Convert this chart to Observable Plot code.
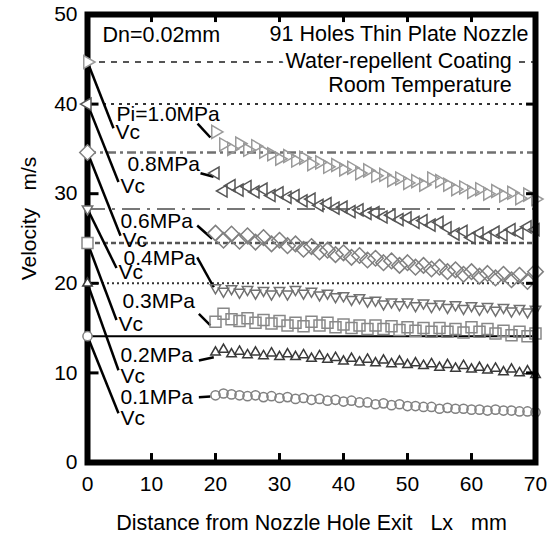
<!DOCTYPE html>
<html><head><meta charset="utf-8">
<script src="https://cdn.jsdelivr.net/npm/d3@7"></script>
<script src="https://cdn.jsdelivr.net/npm/@observablehq/plot@0.6"></script>
<style>body{margin:0;background:#fff} svg{display:block}</style>
</head><body><div id="chart"></div>
<script>
// ---- data ----
const distance = [20, 21.25, 22.5, 23.75, 25, 26.25, 27.5, 28.75, 30, 31.25, 32.5, 33.75, 35, 36.25, 37.5, 38.75, 40, 41.25, 42.5, 43.75, 45, 46.25, 47.5, 48.75, 50, 51.25, 52.5, 53.75, 55, 56.25, 57.5, 58.75, 60, 61.25, 62.5, 63.75, 65, 66.25, 67.5, 68.75, 70];
const pressureLabels = ["Pi=1.0MPa", "0.8MPa", "0.6MPa", "0.4MPa", "0.3MPa", "0.2MPa", "0.1MPa"];
const vcValues = [44.7, 40.0, 34.6, 28.3, 24.5, 20.0, 14.1];
const vel10 = [36.9, 35.5, 35.0, 35.6, 34.9, 35.3, 34.7, 34.4, 33.9, 34.2, 33.7, 34.0, 33.3, 33.5, 33.0, 33.2, 32.7, 32.9, 32.3, 32.6, 32.0, 32.1, 31.5, 31.7, 31.2, 31.4, 31.0, 31.7, 31.4, 31.0, 30.5, 30.7, 30.2, 30.5, 30.0, 30.3, 29.8, 30.1, 29.5, 29.9, 29.4];
const vel08 = [32.3, 30.3, 30.9, 30.4, 30.8, 30.2, 30.5, 29.8, 30.1, 29.6, 29.8, 29.2, 29.4, 28.7, 28.9, 28.4, 28.5, 28.0, 28.2, 27.8, 27.9, 27.4, 27.6, 27.1, 27.3, 26.8, 27.0, 26.5, 26.8, 26.2, 25.5, 25.8, 25.1, 25.6, 25.2, 25.7, 25.4, 26.0, 25.6, 26.3, 26.0];
const vel06 = [25.6, 24.8, 25.5, 24.7, 25.3, 24.6, 25.1, 24.4, 24.8, 24.2, 24.4, 23.8, 24.1, 23.5, 23.7, 23.2, 23.4, 22.9, 23.1, 22.6, 22.8, 22.3, 22.5, 22.0, 22.3, 21.8, 22.0, 21.6, 21.8, 21.3, 21.5, 21.0, 21.3, 20.8, 21.1, 20.6, 21.0, 20.4, 20.9, 20.2, 21.3];
const vel04 = [19.5, 19.1, 19.4, 19.0, 19.3, 18.9, 19.2, 18.8, 19.2, 18.8, 19.3, 18.9, 19.1, 18.7, 18.9, 18.5, 18.6, 18.2, 18.4, 18.0, 18.1, 17.7, 17.9, 17.6, 17.9, 17.5, 17.8, 17.4, 17.7, 17.3, 17.6, 17.2, 17.5, 17.1, 17.4, 17.0, 17.3, 16.9, 17.2, 16.8, 17.1];
const vel03 = [15.7, 16.6, 16.0, 15.8, 16.1, 15.6, 15.9, 15.5, 15.8, 15.3, 15.6, 15.2, 15.7, 15.3, 15.6, 15.1, 15.4, 15.0, 15.3, 14.9, 15.3, 14.9, 15.2, 14.8, 15.1, 14.7, 15.0, 14.6, 15.0, 14.6, 14.9, 14.5, 15.1, 14.6, 14.9, 14.4, 14.7, 14.2, 14.6, 14.1, 14.4];
const vel02 = [12.3, 12.6, 12.1, 12.4, 12.0, 12.3, 11.9, 12.2, 11.8, 12.1, 11.8, 12.0, 11.6, 11.9, 11.5, 11.7, 11.3, 11.6, 11.2, 11.5, 11.1, 11.4, 11.0, 11.3, 10.9, 11.1, 10.8, 11.0, 10.6, 10.9, 10.5, 10.8, 10.4, 10.6, 10.3, 10.5, 10.1, 10.4, 10.0, 10.2, 9.8];
const vel01 = [7.5, 7.7, 7.6, 7.5, 7.4, 7.5, 7.3, 7.4, 7.2, 7.3, 7.1, 7.2, 7.0, 7.1, 6.9, 7.0, 6.8, 6.9, 6.7, 6.7, 6.5, 6.6, 6.4, 6.5, 6.3, 6.3, 6.2, 6.2, 6.0, 6.1, 6.0, 6.0, 5.9, 5.9, 5.8, 5.9, 5.8, 5.8, 5.7, 5.7, 5.6];
const velocities = [vel10, vel08, vel06, vel04, vel03, vel02, vel01];

// label anchor positions (data units)
const pLabelX = [4.53, 6.25, 5.16, 5.63, 5.47, 5.16, 5.16];
const pLabelY = [38.84, 33.26, 26.9, 22.77, 17.97, 11.94, 7.25];
const vcLabelX = [4.38, 5.16, 5.47, 4.84, 4.84, 5.16, 5.16];
const vcLabelY = [36.83, 30.8, 24.78, 21.2, 15.4, 9.6, 4.9];
const vcLeadX = [4.06, 4.84, 5.16, 4.53, 4.53, 4.84, 4.84];
const vcLeadY = [37.3, 31.3, 25.3, 21.7, 15.9, 10.3, 5.5];
const pLeadX1 = [17.2, 17.66, 17.14, 17.14, 17.4, 17.4, 17.4];
const pLeadY1 = [37.83, 32.29, 26.45, 22.9, 16.6, 11.38, 7.29];
const pLeadX2 = [19.2, 19.7, 19.48, 19.73, 19.2, 19.73, 19.2];
const pLeadY2 = [36.27, 31.9, 24.97, 19.56, 15.3, 11.75, 7.37];

const notes = ["Dn=0.02mm", "91 Holes Thin Plate Nozzle", "Water-repellent Coating", "Room Temperature"];
const xTicks = [0, 10, 20, 30, 40, 50, 60, 70];
const yTicks = [0, 10, 20, 30, 40, 50];

// ---- styles ----
function triangleSymbol(angle) {
  return {draw(context, size) {
    const r = Math.sqrt(size / Math.PI);
    for (let i = 0; i < 3; ++i) {
      const a = angle + i * 2 * Math.PI / 3;
      const px = r * Math.cos(a), py = r * Math.sin(a);
      if (i === 0) context.moveTo(px, py); else context.lineTo(px, py);
    }
    context.closePath();
  }};
}
const triRight = triangleSymbol(0), triLeft = triangleSymbol(Math.PI),
      triDown = triangleSymbol(Math.PI / 2), triUp = triangleSymbol(-Math.PI / 2);

const styles = [
  {symbol: triRight, r: 7.5, stroke: "#9a9a9a", lineStroke: "#555", dash: "6,6", lw: 2},
  {symbol: triLeft, r: 7, stroke: "#555", lineStroke: "#333", dash: "3,5", lw: 2},
  {symbol: "diamond2", r: 7, stroke: "#808080", lineStroke: "#707070", dash: "9,4,3,4", lw: 2.5},
  {symbol: triDown, r: 6, stroke: "#707070", lineStroke: "#777", dash: "18,7,3,7", lw: 2},
  {symbol: "square", r: 6.2, stroke: "#888", lineStroke: "#555", dash: "5,3", lw: 2.5},
  {symbol: triUp, r: 5.5, stroke: "#3a3a3a", lineStroke: "#333", dash: "2,3", lw: 2},
  {symbol: "circle", r: 4.6, stroke: "#808080", lineStroke: "#000", dash: null, lw: 2}
];

const FONT = "'Liberation Sans', Arial, Helvetica, sans-serif";
const marks = [];

// reference (Vc) lines
styles.forEach((s, i) => {
  marks.push(Plot.ruleY([vcValues[i]], {x1: 0, x2: 70, stroke: s.lineStroke, strokeWidth: s.lw, strokeDasharray: s.dash ?? undefined}));
});

// leader lines
const leaders = pressureLabels.map((p, i) => ({x1: 0, y1: vcValues[i], x2: vcLeadX[i], y2: vcLeadY[i]}))
  .concat(pressureLabels.map((p, i) => ({x1: pLeadX1[i], y1: pLeadY1[i], x2: pLeadX2[i], y2: pLeadY2[i]})));
marks.push(Plot.link(leaders, {x1: "x1", y1: "y1", x2: "x2", y2: "y2", stroke: "black", strokeWidth: 2.5}));

// data series
styles.forEach((s, i) => {
  const data = distance.map((d, j) => ({x: d, v: velocities[i][j]}));
  marks.push(Plot.dot(data, {x: "x", y: "v", symbol: s.symbol, r: s.r, stroke: s.stroke, strokeWidth: 1.5, fill: "white", fillOpacity: 0}));
});

// labels
marks.push(Plot.text(pressureLabels, {x: (d, i) => pLabelX[i], y: (d, i) => pLabelY[i], text: d => d, textAnchor: "start", fontSize: 21, fill: "black"}));
marks.push(Plot.text(pressureLabels, {x: (d, i) => vcLabelX[i], y: (d, i) => vcLabelY[i], text: () => "Vc", textAnchor: "start", fontSize: 21, fill: "black"}));

// notes
marks.push(Plot.text([notes[0]], {x: 2.34, y: 47.75, textAnchor: "start", fontSize: 21.5, fill: "black"}));
marks.push(Plot.text([notes[1]], {x: 68.9, y: 47.85, textAnchor: "end", fontSize: 21.5, fill: "black"}));
marks.push(Plot.text([notes[2], notes[3]], {x: 66.3, y: [44.75, 42.08], textAnchor: "end", fontSize: 21.5, fill: "black", stroke: "white", strokeWidth: 10}));

// frame
marks.push(Plot.frame({stroke: "black", strokeWidth: 6}));

// inward ticks
const innerX = xTicks.slice(1, -1), innerY = yTicks.slice(1, -1);
marks.push(Plot.ruleX(innerX, {x: d => d, y1: 0, y2: 1.0, stroke: "black", strokeWidth: 3}));
marks.push(Plot.ruleX(innerX, {x: d => d, y1: 49.1, y2: 50, stroke: "black", strokeWidth: 3}));
marks.push(Plot.ruleY(innerY, {y: d => d, x1: 0, x2: 1.8, stroke: "black", strokeWidth: 3}));
marks.push(Plot.ruleY(innerY, {y: d => d, x1: 68.6, x2: 70, stroke: "black", strokeWidth: 3}));

// Vc markers at the nozzle exit (on top of frame)
styles.forEach((s, i) => {
  marks.push(Plot.dot([vcValues[i]], {x: 0, y: d => d, symbol: s.symbol, r: s.r, stroke: s.stroke, strokeWidth: 1.5, fill: "white"}));
});

// axis titles
marks.push(Plot.text(["Distance from Nozzle Hole Exit\u00a0\u00a0\u00a0Lx\u00a0\u00a0\u00a0mm"], {frameAnchor: "bottom", textAnchor: "middle", dy: 67, fontSize: 21.5, fill: "black"}));
marks.push(Plot.text(["Velocity\u00a0\u00a0\u00a0m/s"], {frameAnchor: "left", textAnchor: "middle", dx: -58, dy: -20, rotate: -90, fontSize: 21, fill: "black"}));

const chart = Plot.plot({
  width: 556, height: 546,
  marginLeft: 87, marginRight: 21, marginTop: 14, marginBottom: 84,
  style: {fontFamily: FONT, fontSize: "21px", color: "black", background: "white", overflow: "visible"},
  x: {domain: [0, 70], ticks: xTicks, tickSize: 0, tickPadding: 14, label: null},
  y: {domain: [0, 50], ticks: yTicks, tickSize: 0, tickPadding: 10, label: null},
  marks
});
document.getElementById("chart").append(chart);
</script>
</body></html>
